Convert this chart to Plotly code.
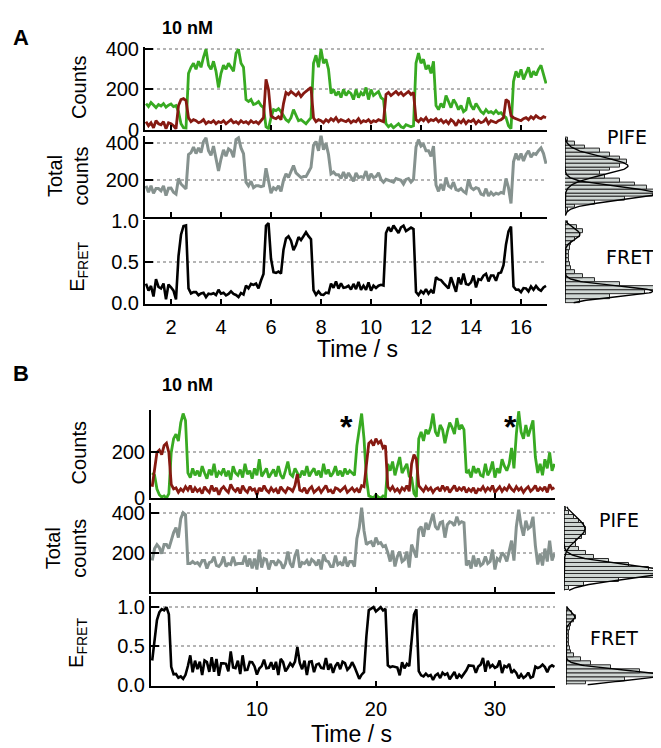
import numpy as np
import plotly.graph_objects as go

W, H = 661, 748

# ---------------- DATA ----------------
# Panel A: time grid 1.0 .. 17.0 s, 0.1 s bins
t_A = np.round(np.arange(1.0, 17.0001, 0.1), 2)
green_A = np.array([
    130,115,135,120,110,125,118,130,112,122,
    128,115,120,90,30,10,8,280,310,330,
    300,340,310,360,400,320,300,340,290,210,
    280,320,300,330,310,290,380,400,330,310,
    150,140,150,125,130,140,120,110,15,5,
    60,100,95,105,90,70,50,40,60,100,
    70,45,50,40,30,45,60,330,370,310,
    400,330,350,300,180,200,170,190,160,200,
    170,190,180,150,200,160,185,170,210,150,
    200,170,180,190,160,150,30,15,25,10,
    20,30,15,10,25,20,15,20,330,380,
    330,350,300,320,280,340,120,100,130,110,
    170,140,110,150,130,100,120,90,100,160,
    120,100,130,110,90,80,100,85,90,80,
    95,80,85,70,60,20,5,240,290,260,
    300,250,280,310,260,290,270,300,320,280,
    230], dtype=float)
red_A = np.array([
    40,20,35,10,45,30,25,40,5,35,
    30,20,5,120,150,155,145,60,40,50,
    45,35,40,50,30,40,35,45,30,40,
    35,45,30,40,50,35,40,30,45,35,
    40,30,45,35,40,30,45,60,250,200,
    70,60,55,65,50,130,185,175,190,180,
    170,185,165,180,190,200,210,60,40,50,
    45,35,50,40,55,45,60,40,50,45,
    40,50,35,45,40,55,35,45,40,50,
    35,45,40,50,45,40,175,185,170,180,
    190,175,185,170,180,190,175,185,50,40,
    55,45,60,40,50,45,55,40,50,35,
    45,30,50,40,20,45,35,50,30,45,
    40,50,30,45,35,40,55,30,45,40,
    35,45,50,60,150,140,70,60,55,50,
    45,55,60,50,65,55,70,60,55,65,
    60], dtype=float)

# Panel B: time grid 1.2 .. 35.0 s, 0.2 s bins
t_B = np.round(np.arange(1.2, 35.0001, 0.2), 2)
green_B = np.array([
    110,100,40,15,5,10,0,20,200,260,
    280,250,330,370,340,110,90,130,100,120,
    95,140,110,85,125,100,150,90,115,105,
    130,95,120,80,140,110,100,125,90,150,
    105,120,85,130,100,170,95,115,130,90,
    110,125,95,140,100,85,120,160,105,95,
    130,110,90,120,100,140,95,115,130,100,
    120,90,150,105,125,95,110,140,100,120,
    95,130,105,120,110,100,230,300,370,260,
    90,10,5,0,15,5,0,10,5,150,
    120,160,100,140,180,110,130,150,95,90,
    20,5,260,290,250,300,280,310,370,290,
    270,320,300,240,290,330,310,280,350,300,
    320,300,110,120,90,140,110,130,100,95,
    150,100,120,160,90,130,110,170,140,120,
    150,220,130,280,380,290,260,320,270,300,
    340,180,110,150,100,170,130,200,120,150], dtype=float)
red_B = np.array([
    50,120,200,210,190,230,240,200,60,40,
    45,25,40,30,50,35,55,25,45,30,
    40,20,50,35,25,55,30,45,15,40,
    50,35,25,60,40,30,45,20,55,35,
    25,50,35,40,15,45,30,55,35,25,
    45,30,40,20,50,35,25,45,40,30,
    55,105,35,30,45,20,40,50,25,35,
    45,25,40,55,30,35,20,45,40,30,
    40,50,25,35,45,30,40,25,55,50,
    150,240,250,230,260,240,250,220,230,50,
    35,50,30,40,25,45,35,55,30,150,
    190,170,55,40,30,50,35,45,25,40,
    45,30,55,35,50,25,40,55,30,45,
    35,50,25,40,30,45,20,40,35,50,
    30,45,35,55,25,40,50,30,45,35,
    55,40,30,50,35,45,25,40,50,30,
    40,55,30,45,35,50,25,60,40,45], dtype=float)

# Derived traces
total_A = green_A + red_A
fret_A = red_A / (green_A + red_A)
total_B = green_B + red_B
fret_B = red_B / (green_B + red_B)

# Histograms (bin centres, bar lengths)
pife_bins_A = [40,60,80,100,120,140,160,180,200,220,240,260,280,300,320,340,360,380,400,420]
pife_hist_A = [3,10,30,60,88,90,82,70,55,40,35,45,55,62,55,45,35,20,10,3]
pife_fit_A = [(63, 277, 48), (91, 128, 36)]          # amplitude, mean, sigma

fret_bins = [0.025,0.075,0.125,0.175,0.225,0.275,0.325,0.375,0.425,0.475,
             0.525,0.575,0.625,0.675,0.725,0.775,0.825,0.875,0.925,0.975]
fret_hist_A = [15,45,80,90,55,30,18,10,6,5,4,4,4,5,6,10,15,18,12,3]
fret_fit_A = [(15, 0.84, 0.07), (88, 0.14, 0.065)]

pife_bins_B = [20,40,60,80,100,120,140,160,180,200,220,240,260,280,300,320,340,360,380,400,420]
pife_hist_B = [5,20,55,90,103,85,65,45,30,22,15,12,12,18,22,22,20,15,10,5,2]
pife_fit_B = [(100, 103, 38), (21, 320, 55)]

fret_hist_B = [20,60,98,75,45,25,15,8,5,4,3,3,3,3,4,5,8,10,6,2]
fret_fit_B = [(95, 0.12, 0.07), (9, 0.87, 0.06)]

GREEN = '#38aa22'
RED = '#861a12'
GRAY = '#86928f'
FONT = 'Liberation Sans, Arial, sans-serif'
TICKFONT = dict(family=FONT, size=20, color='black')

fig = go.Figure()

def line(x, y, color, xa, ya, w=2.8):
    fig.add_trace(go.Scatter(x=x, y=y, mode='lines', line=dict(color=color, width=w),
                             xaxis=xa, yaxis=ya, hoverinfo='skip'))

# Panel A
line(t_A, green_A, GREEN, 'x', 'y')
line(t_A, red_A, RED, 'x', 'y')
line(t_A, total_A, GRAY, 'x2', 'y2', w=3)
line(t_A, fret_A, 'black', 'x3', 'y3', w=2.6)
# Panel B
line(t_B, green_B, GREEN, 'x4', 'y4')
line(t_B, red_B, RED, 'x4', 'y4')
line(t_B, total_B, GRAY, 'x5', 'y5', w=3)
line(t_B, fret_B, 'black', 'x6', 'y6', w=2.6)

def hist(bins, vals, width, xa, ya, fits, lo, hi):
    fig.add_trace(go.Bar(x=vals, y=bins, orientation='h', width=width, base=0,
                         marker=dict(color='#cfd6d3', line=dict(color='#2a2a2a', width=1)),
                         xaxis=xa, yaxis=ya, hoverinfo='skip'))
    grid = np.linspace(lo, hi, 200)
    for a, m, s in fits:
        fig.add_trace(go.Scatter(x=a * np.exp(-0.5 * ((grid - m) / s) ** 2), y=grid,
                                 mode='lines', line=dict(color='black', width=1.4),
                                 xaxis=xa, yaxis=ya, hoverinfo='skip'))

hist(pife_bins_A, pife_hist_A, 20, 'x7', 'y7', pife_fit_A, 10, 430)
hist(fret_bins, fret_hist_A, 0.05, 'x8', 'y8', fret_fit_A, 0.0, 1.0)
hist(pife_bins_B, pife_hist_B, 20, 'x9', 'y9', pife_fit_B, 10, 430)
hist(fret_bins, fret_hist_B, 0.05, 'x10', 'y10', fret_fit_B, 0.0, 1.0)

def xax(l, r, rng, anchor, tickvals, labels):
    return dict(domain=[l / W, r / W], range=rng, anchor=anchor,
                showline=True, linecolor='black', linewidth=2,
                ticks='inside', ticklen=5, tickwidth=2, tickcolor='black',
                tickvals=tickvals, showticklabels=labels, tickfont=TICKFONT,
                ticklabelstandoff=4, showgrid=False, zeroline=False)

def yax(top, bottom, rng, anchor, tickvals, ticktext):
    return dict(domain=[1 - bottom / H, 1 - top / H], range=rng, anchor=anchor,
                showline=True, linecolor='black', linewidth=2,
                ticks='inside', ticklen=8, tickwidth=2, tickcolor='black',
                tickvals=tickvals, ticktext=ticktext, tickfont=TICKFONT,
                showgrid=True, gridcolor='#b4b4b4', gridwidth=1.6, griddash='dot',
                zeroline=False)

def hax(l, r, anchor):
    return dict(domain=[l / W, r / W], range=[0, 104], anchor=anchor, visible=False)

def hyax(top, bottom, rng, anchor):
    return dict(domain=[1 - bottom / H, 1 - top / H], range=rng, anchor=anchor, visible=False)

xA = [0.96, 17.04]
xB = [1.1, 35.05]
ticksA = [2, 4, 6, 8, 10, 12, 14, 16]
ticksB = [10, 20, 30]

fig.update_layout(
    width=W, height=H, autosize=False,
    margin=dict(l=0, r=0, t=0, b=0),
    paper_bgcolor='white', plot_bgcolor='white',
    showlegend=False, bargap=0,
    xaxis=xax(137, 539, xA, 'y', ticksA, False),
    yaxis=yax(30, 115, [0, 410], 'x', [0, 200, 400], ['0', '200', '400']),
    xaxis2=xax(137, 539, xA, 'y2', ticksA, False),
    yaxis2=yax(121, 205, [0, 442], 'x2', [200, 400], ['200', '400']),
    xaxis3=xax(137, 539, xA, 'y3', ticksA, True),
    yaxis3=yax(208, 294, [-0.012, 1.012], 'x3', [0, 0.5, 1.0], ['0.0', '0.5', '1.0']),
    xaxis4=xax(143, 547, xB, 'y4', ticksB, False),
    yaxis4=yax(403, 494, [0, 387], 'x4', [0, 200], ['0', '200']),
    xaxis5=xax(143, 547, xB, 'y5', ticksB, False),
    yaxis5=yax(499, 591, [0, 449], 'x5', [200, 400], ['200', '400']),
    xaxis6=xax(143, 547, xB, 'y6', ticksB, True),
    yaxis6=yax(595, 687, [-0.0125, 1.14], 'x6', [0, 0.5, 1.0], ['0.0', '0.5', '1.0']),
    xaxis7=hax(557, 661, 'y7'),
    yaxis7=hyax(121, 205, [0, 442], 'x7'),
    xaxis8=hax(557, 661, 'y8'),
    yaxis8=hyax(208, 294, [-0.012, 1.012], 'x8'),
    xaxis9=hax(556, 660, 'y9'),
    yaxis9=hyax(499, 591, [0, 449], 'x9'),
    xaxis10=hax(558, 661, 'y10'),
    yaxis10=hyax(595, 687, [-0.0125, 1.14], 'x10'),
)

def ann(text, x, y, size=20, bold=False, angle=0, family=FONT):
    fig.add_annotation(text=('<b>%s</b>' % text) if bold else text,
                       x=x / W, y=1 - y / H, xref='paper', yref='paper',
                       showarrow=False, textangle=angle, xanchor='center', yanchor='middle',
                       font=dict(family=family, size=size, color='black'))

ann('A', 13, 20, size=22, bold=True)
ann('B', 13, 366, size=22, bold=True)
ann('10 nM', 179, 10, size=18, bold=True)
ann('10 nM', 179, 378, size=18, bold=True)
ann('Counts', 71, 72, angle=-90)
ann('Total<br>counts', 60, 163, angle=-90)
ann('E<sub>FRET</sub>', 71, 256, angle=-90)
ann('Time / s', 350, 341, size=23)
ann('Counts', 71, 448, angle=-90)
ann('Total<br>counts', 58, 546, angle=-90)
ann('E<sub>FRET</sub>', 70, 643, angle=-90)
ann('Time / s', 343, 737, size=23)
ann('PIFE', 619, 122, family='DejaVu Sans', size=19)
ann('FRET', 622, 246, family='DejaVu Sans', size=19)
ann('PIFE', 611, 516, family='DejaVu Sans', size=19)
ann('FRET', 606, 638, family='DejaVu Sans', size=19)
ann('*', 338, 421, size=32, bold=True)
ann('*', 502, 421, size=32, bold=True)

fig.write_html('out.html')
